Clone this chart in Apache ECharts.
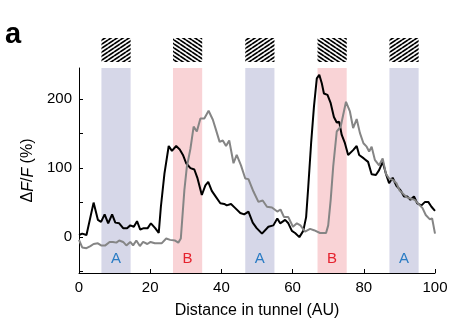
<!DOCTYPE html>
<html>
<head>
<meta charset="utf-8">
<script src="https://cdn.jsdelivr.net/npm/echarts@6/dist/echarts.min.js"></script>
<style>
  html, body { margin: 0; padding: 0; background: #fff; }
  #chart { width: 456px; height: 332px; }
</style>
</head>
<body>
<div id="chart"></div>
<script>
// Black trace: ΔF/F along the tunnel
const blackX = [0,0.9,2.1,4.1,5.3,6.2,7.2,8.2,9.3,10.2,11.3,12.4,13.5,14.4,15.4,16.3,17.2,18.2,19.3,20.2,21.4,22.4,23,24,25.2,26.1,27.3,28.3,29.2,30.1,31.3,32.4,33.3,34.5,35.5,36.3,37.3,38.5,39.7,40.8,41.5,42.7,43.9,45.3,46.4,47.6,48.8,49.9,51.4,53.2,54.6,55.7,56.5,57.9,58.8,59.8,60.7,61.9,63,63.8,64.4,65.2,66,66.8,67.5,68.2,68.8,69.8,70.7,71.6,72.4,73.1,73.8,74.7,75.6,77,78,78.7,80,81.2,82.2,83.4,84.3,85.3,86.2,87.1,88.1,89.2,90.3,91.3,92.2,93.1,94.1,95,96.2,97.2,98.1,99,100];
const blackY = [3,5,3,50,25,22,33,20,33,21,20,13,13,17,15,23,11,13,13,20,13,6,44,92,132,125,132,127,119,107,100,98,85,61,75,80,67,58,49,48,46,48,42,35,33,37,21,13,5,15,17,27,20,25,20,9,6,0,9,29,73,136,189,230,235,223,208,206,194,174,166,167,148,136,119,126,132,119,114,109,91,90,97,109,92,78,86,74,68,59,59,54,59,49,46,51,51,44,38];

// Gray trace
const grayX = [0,0.9,2.1,3.2,4.1,5.3,6.2,7.4,8.6,9.5,10.5,11.3,12.4,13.3,14.4,15.2,16.1,17.1,18,19.2,20.1,21.3,22.3,23.2,24.5,25.6,27,27.9,28.6,29.6,30.3,31.3,32.2,33.1,34.1,35.2,36.4,37.6,38.5,39.5,40.4,41.3,42.2,43.4,44.3,45.5,46.7,47.6,49,50.4,51.6,52.8,54.2,55.7,56.6,57.6,58.8,60.1,61.2,62.2,63.5,64.9,66,67.7,69.4,70,70.7,71.4,72.4,73.5,74.2,75,76.1,77,78,78.9,79.9,80.8,81.5,82.2,83.1,84.3,85.3,86.2,87.1,88.1,89.2,90,91,92,93.1,94.3,95.2,96.5,97.4,98.5,99.2,100];
const grayY = [-4,-15,-16,-13,-10,-9,-12,-12,-7,-7,-8,-5,-7,-12,-7,-12,-5,-13,-7,-10,-7,-9,-9,-9,-2,-4,-5,-8,-2,68,102,128,160,153,172,172,183,170,155,138,140,132,140,107,119,104,85,84,66,51,53,44,43,37,40,29,29,15,20,17,8,12,10,6,6,17,54,102,153,160,177,196,182,158,171,151,136,131,124,131,112,104,114,92,85,83,78,68,63,58,56,54,49,42,32,26,27,5];

// Grating zones along the tunnel
const zoneStart = [6.3, 26.4, 46.7, 67, 87.2];
const zoneEnd = [14.5, 34.6, 54.9, 75.2, 95.4];
const zoneLabels = ['A', 'B', 'A', 'B', 'A'];

// Axis ticks
const xTicks = [0, 20, 40, 60, 80, 100];
const yTickMarks = [-50, 0, 50, 100, 150, 200];
const yTickLabels = [0, 100, 200];

const FONT = '"Liberation Sans", Arial, Helvetica, sans-serif';

function zip(xs, ys) { return xs.map((x, i) => [x, ys[i]]); }

// Diagonal stripe tiles for the grating icons (6 px across, 4 px down)
function stripeTile(dir) {
  const pw = 6, ph = 4;
  const c = document.createElement('canvas');
  c.width = pw; c.height = ph;
  const g = c.getContext('2d');
  g.fillStyle = '#ffffff';
  g.fillRect(0, 0, pw, ph);
  g.strokeStyle = '#000000';
  g.lineWidth = 1.7;
  g.beginPath();
  for (let k = -1; k <= 1; k++) {
    if (dir > 0) { g.moveTo(0, ph + k * ph); g.lineTo(pw, k * ph); }
    else { g.moveTo(0, k * ph); g.lineTo(pw, ph + k * ph); }
  }
  g.stroke();
  return c;
}
const tileA = stripeTile(1);
const tileB = stripeTile(-1);

const zoneColors = { A: '#d6d7e8', B: '#f9d3d6' };
const labelColors = { A: '#2a7cc4', B: '#e5222e' };

const chart = echarts.init(document.getElementById('chart'), null, { renderer: 'canvas' });

chart.setOption({
  animation: false,
  backgroundColor: '#ffffff',
  grid: { left: 79, right: 21, top: 68, bottom: 59, containLabel: false },
  graphic: [{
    type: 'text', left: 5, top: 20,
    style: { text: 'a', font: 'bold 29px ' + FONT, fill: '#000' }
  }],
  xAxis: {
    type: 'value', min: 0, max: 100, interval: 20,
    name: 'Distance in tunnel (AU)', nameLocation: 'middle', nameGap: 30,
    nameTextStyle: { fontFamily: FONT, fontSize: 16, color: '#000' },
    axisLine: { show: true, onZero: false, lineStyle: { color: '#000', width: 1 } },
    axisTick: { show: true, inside: true, length: 4, lineStyle: { color: '#000' } },
    axisLabel: { fontFamily: FONT, fontSize: 15, color: '#000', margin: 7 },
    splitLine: { show: false }
  },
  yAxis: {
    type: 'value', min: -52, max: 245,
    name: '{n|Δ}{i|F}{n|/}{i|F}{n| (%)}', nameLocation: 'middle', nameGap: 36, nameRotate: 90,
    nameTextStyle: {
      rich: {
        n: { fontFamily: FONT, fontSize: 16, color: '#000' },
        i: { fontFamily: FONT, fontSize: 16, fontStyle: 'italic', color: '#000' }
      }
    },
    axisLine: { show: true, lineStyle: { color: '#000', width: 1 } },
    axisTick: { show: true, inside: true, length: 4, customValues: yTickMarks, lineStyle: { color: '#000' } },
    axisLabel: { fontFamily: FONT, fontSize: 15, color: '#000', margin: 7, customValues: yTickLabels },
    splitLine: { show: false }
  },
  series: [
    {
      // zone bands, grating icons and zone letters
      type: 'custom',
      z: 1,
      clip: false,
      silent: true,
      data: zoneStart.map((s, i) => [s, zoneEnd[i], i]),
      renderItem: function (params, api) {
        const i = api.value(2);
        const lab = zoneLabels[i];
        const p0 = api.coord([api.value(0), 245]);
        const p1 = api.coord([api.value(1), -52]);
        const x = p0[0], w = p1[0] - p0[0];
        const top = p0[1], bottom = p1[1];
        return {
          type: 'group',
          children: [
            { type: 'rect', shape: { x: x, y: top, width: w, height: bottom - top },
              style: { fill: zoneColors[lab] } },
            { type: 'rect', shape: { x: x, y: top - 30, width: w, height: 24 },
              style: { fill: { image: lab === 'A' ? tileA : tileB, repeat: 'repeat' } } },
            { type: 'text', x: x + w / 2, y: bottom - 14,
              style: { text: lab, font: '15px ' + FONT, fill: labelColors[lab],
                       align: 'center', verticalAlign: 'middle' } }
          ]
        };
      }
    },
    {
      type: 'line', z: 3, data: zip(blackX, blackY),
      showSymbol: false, symbol: 'none',
      lineStyle: { color: '#000000', width: 2 }
    },
    {
      type: 'line', z: 4, data: zip(grayX, grayY),
      showSymbol: false, symbol: 'none',
      lineStyle: { color: '#858585', width: 2 }
    }
  ]
});
</script>
</body>
</html>
